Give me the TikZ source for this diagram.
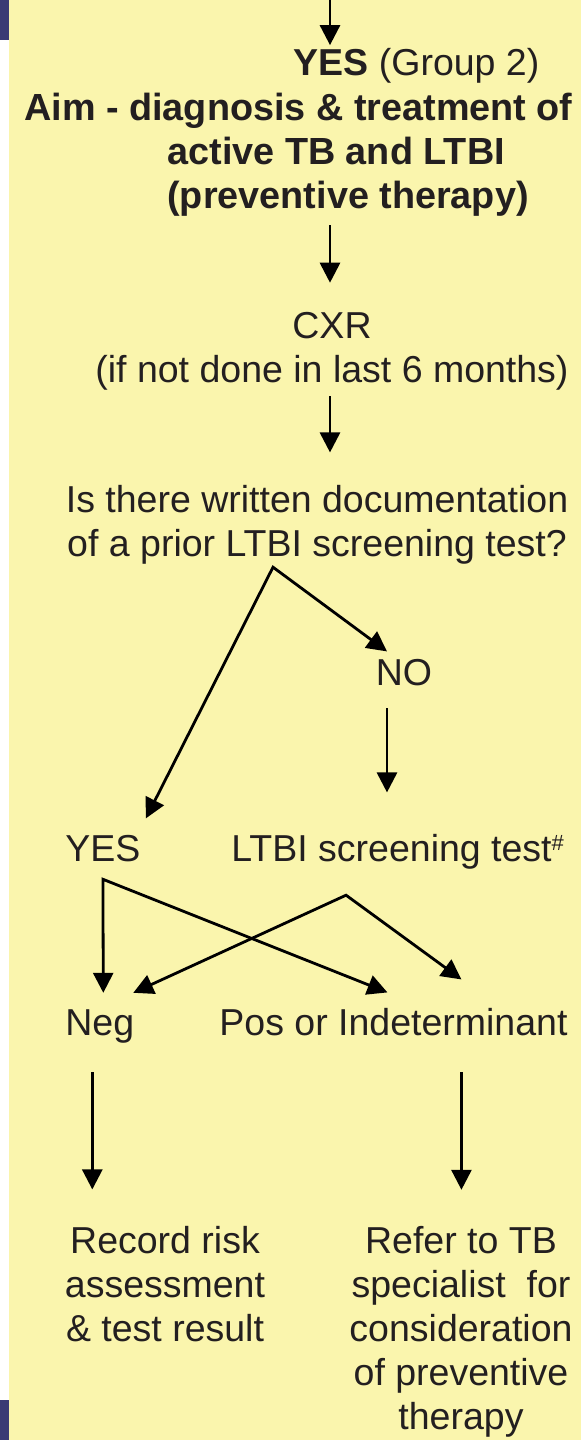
\documentclass[tikz,border=0pt]{standalone}
\usepackage{fontspec}
\setmainfont{Liberation Sans}
\usetikzlibrary{arrows.meta,positioning,calc}
\definecolor{tbyellow}{HTML}{FAF5AD}
\definecolor{tbnavy}{HTML}{3A3B74}
\definecolor{tbink}{HTML}{231F20}

\begin{document}
\begin{tikzpicture}[
    x=0.5pt, y=-0.5pt,
    >={Triangle[width=10pt,length=10pt]},
    txt/.style={
      inner sep=0pt,
      text=tbink,
      font=\fontsize{18.75}{22}\selectfont
    },
    head/.style={
      txt,
      font=\fontsize{18.9}{22}\selectfont\bfseries
    },
    arrow/.style={
      ->,
      line width=1.4pt,
      black
    },
    fork/.style={
      <->,
      line width=1.4pt,
      black
    }
  ]

  % page and side strip
  \useasboundingbox (0,0) rectangle (581,1440);
  \fill[white] (0,0) rectangle (9,1440);
  \fill[tbyellow] (9,0) rectangle (581,1440);
  \fill[tbnavy] (0,0) rectangle (9,40);
  \fill[tbnavy] (0,1400) rectangle (9,1440);

  % multi-line nodes sit on the baseline of their last line
  \node[txt, anchor=base west] (yes1) at (293,75) {\textbf{YES} (Group 2)};

  \node[head, anchor=base west, align=left] (aim) at (24,208) {
    Aim - diagnosis \& treatment of\\
    \hspace*{71.5pt}active TB and LTBI\\
    \hspace*{71.5pt}(preventive therapy)
  };

  \node[txt, anchor=base, align=center] (cxr) at (332,382) {
    CXR\\(if not done in last 6 months)
  };

  \node[txt, anchor=base, align=center] (quest) at (317,556) {
    Is there written documentation\\of a prior LTBI screening test?
  };

  \node[txt, anchor=base] (no) at (404,685) {NO};

  \node[txt, anchor=base west] (yes2) at (65,861) {YES};

  \node[txt, anchor=base west] (screen) at (231,861) {
    LTBI screening test\raisebox{5.5pt}{\fontsize{11}{11}\selectfont\#}
  };

  \node[txt, anchor=base west] (neg) at (65,1035) {Neg};

  \node[txt, anchor=base west] (pos) at (219,1035) {Pos or Indeterminant};

  \node[txt, anchor=base, align=center] (rec) at (165,1341) {
    Record risk\\assessment\\\& test result
  };

  \node[txt, anchor=base, align=center] (refer) at (461,1429) {
    Refer to TB\\specialist\ \ for\\consideration\\of preventive\\therapy
  };

  % branch points
  \coordinate (entry) at (330,0);
  \coordinate (qfork) at ([xshift=-22pt,yshift=-1.5pt]quest.south);
  \coordinate (nocol) at ([xshift=-8.5pt]no.south);
  \coordinate (yfork) at ([yshift=-8.75pt]yes2.south);
  \coordinate (sfork) at ([xshift=-25.8pt,yshift=-13pt]screen.south);
  \coordinate (negcol) at ([xshift=-3.75pt]neg.south);
  \coordinate (poscol) at ([xshift=34pt]pos.south);

  \draw[arrow, shorten >=1.15pt] (entry) -- (entry |- yes1.north);
  \draw[arrow, shorten <=4.5pt, shorten >=14.35pt] (aim.south -| entry) -- (cxr.north -| entry);
  \draw[arrow, shorten <=3pt, shorten >=16pt] (cxr.south -| entry) -- (quest.north -| entry);
  \draw[fork] ([xshift=2.5pt,yshift=8pt]yes2.north east) -- (qfork) -- ([xshift=-8.5pt,yshift=3.5pt]no.north);
  \draw[arrow, shorten <=11.25pt, shorten >=20.5pt] (nocol) -- (nocol |- screen.north);
  \draw[fork] ([xshift=1.75pt,yshift=8pt]neg.north) -- (yfork) -- ([xshift=-3pt,yshift=7.5pt]pos.north);
  \draw[fork] ([xshift=16.75pt,yshift=8pt]neg.north) -- (sfork) -- ([xshift=34pt,yshift=14pt]pos.north);
  \draw[arrow, shorten <=14.5pt, shorten >=18pt] (negcol) -- (negcol |- rec.north);
  \draw[arrow, shorten <=18.25pt, shorten >=17.85pt] (poscol) -- (poscol |- refer.north);

\end{tikzpicture}
\end{document}
